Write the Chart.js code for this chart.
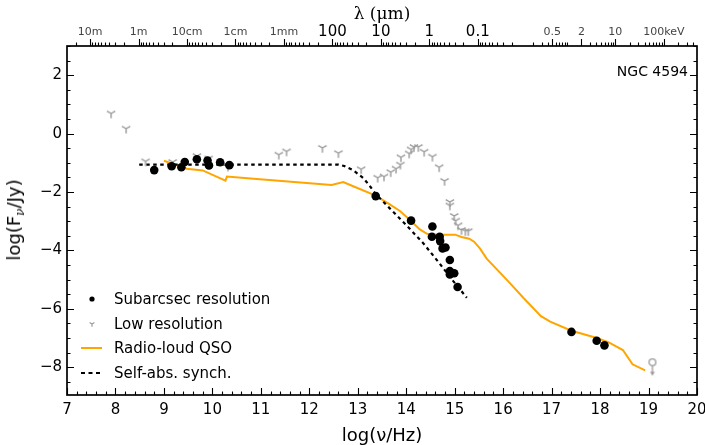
<!DOCTYPE html>
<html><head><meta charset="utf-8">
<script src="https://cdn.jsdelivr.net/npm/chart.js@4.4.1/dist/chart.umd.min.js"></script>
<style>
body{margin:0;background:#fff;}
#wrap{position:relative;width:705px;height:445px;font-family:"DejaVu Sans",sans-serif;}
#c{position:absolute;left:0;top:0;}
.ov{position:absolute;white-space:nowrap;color:#000;pointer-events:none;}
#ytitle{left:17px;top:220px;transform:translate(-50%,-50%) rotate(-90deg);font-size:18px;line-height:22px;}
#ytitle sub{font-size:12px;vertical-align:-4px;font-family:"DejaVu Serif",serif;font-style:italic;}
#ngc{right:17px;top:62px;font-size:14px;line-height:18px;}
.lg{position:absolute;left:78px;width:28px;height:20px;}
.lt{position:absolute;left:114px;font-size:15px;line-height:20px;height:20px;white-space:nowrap;}
</style></head>
<body>
<div id="wrap">
<canvas id="c" width="705" height="445"></canvas>
<div class="ov" id="ytitle">log(F<sub>ν</sub>/Jy)</div>
<div class="ov" id="ngc">NGC 4594</div>
<svg class="lg" style="top:289px" viewBox="0 0 28 20"><circle cx="14" cy="10" r="2.6" fill="#000"/></svg>
<div class="lt" style="top:289px">Subarcsec resolution</div>
<svg class="lg" style="top:314px" viewBox="0 0 28 20"><path d="M14 10 L14 12.8 M14 10 L11.6 8.6 M14 10 L16.4 8.6" stroke="#9a9a9a" stroke-width="1.2" fill="none"/></svg>
<div class="lt" style="top:314px">Low resolution</div>
<svg class="lg" style="top:338px" viewBox="0 0 28 20"><line x1="3" y1="10" x2="24" y2="10" stroke="#FFA500" stroke-width="2"/></svg>
<div class="lt" style="top:338px">Radio-loud QSO</div>
<svg class="lg" style="top:363px" viewBox="0 0 28 20"><line x1="3" y1="10" x2="24" y2="10" stroke="#000" stroke-width="2.2" stroke-dasharray="4 3.5"/></svg>
<div class="lt" style="top:363px">Self-abs. synch.</div>
</div>
<script>
// ---- data ----
const subX = [8.80,9.16,9.36,9.43,9.68,9.90,9.93,10.16,10.35,13.37,14.10,14.54,14.53,14.69,14.70,14.75,14.81,14.90,14.90,14.99,14.90,15.06,17.41,17.93,18.09];
const subY = [-1.25,-1.12,-1.15,-0.97,-0.88,-0.92,-1.09,-0.98,-1.08,-2.14,-2.98,-3.18,-3.53,-3.53,-3.68,-3.93,-3.90,-4.33,-4.71,-4.78,-4.82,-5.25,-6.79,-7.09,-7.25];
const lowX = [7.91,8.22,8.62,9.18,9.68,9.92,10.32,11.37,11.53,12.27,12.60,13.07,13.41,13.54,13.68,13.79,13.88,13.89,14.06,14.10,14.16,14.25,14.37,14.54,14.68,14.79,14.90,14.90,14.99,15.02,15.07,15.14,15.22,15.28];
const lowY = [0.69,0.17,-0.95,-0.97,-0.77,-0.85,-1.13,-0.72,-0.61,-0.49,-0.67,-1.22,-1.51,-1.47,-1.32,-1.20,-1.06,-0.81,-0.68,-0.54,-0.46,-0.46,-0.62,-0.79,-1.15,-1.62,-2.34,-2.46,-2.82,-2.98,-3.14,-3.30,-3.34,-3.34];
const qsoX = [9.00,9.47,9.80,10.27,10.30,10.98,12.46,12.70,12.93,13.37,13.66,13.87,14.10,14.28,14.43,14.63,14.83,15.01,15.14,15.30,15.40,15.52,15.66,16.14,16.42,16.78,16.97,17.41,17.90,18.17,18.47,18.67,18.93];
const qsoY = [-0.93,-1.20,-1.26,-1.61,-1.47,-1.56,-1.76,-1.66,-1.82,-2.12,-2.42,-2.65,-2.99,-3.28,-3.43,-3.46,-3.46,-3.46,-3.54,-3.60,-3.70,-3.93,-4.28,-5.12,-5.63,-6.25,-6.44,-6.75,-6.98,-7.14,-7.41,-7.90,-8.11];
const synX = [8.49,12.60,12.72,12.91,13.12,13.26,13.37,13.66,14.01,14.35,14.69,14.97,15.25];
const synY = [-1.06,-1.06,-1.11,-1.26,-1.53,-1.82,-2.07,-2.56,-3.15,-3.75,-4.45,-5.05,-5.62];
const limX = [19.08];
const limY = [-7.83];
const xTickVals = [7,8,9,10,11,12,13,14,15,16,17,18,19,20];
const yTickVals = [-8,-6,-4,-2,0,2];
const lambdaMajorUm = [1e7,1e6,1e5,1e4,1e3,100,10,1,0.1];
const lambdaMajorLabels = ['10m','1m','10cm','1cm','1mm','100','10','1','0.1'];
const lambdaBig = [false,false,false,false,false,true,true,true,true];
const keVMajor = [0.5,2,10,100];
const keVMajorLabels = ['0.5','2','10','100keV'];

// ---- top axis ticks (unit conversions) ----
const nuFromUm = um => Math.log10(2.998e14/um);
const nuFromKeV = e => 17.315 + Math.log10(e);
const topTicks = [];
lambdaMajorUm.forEach((u,i)=>topTicks.push({v:nuFromUm(u),lab:lambdaMajorLabels[i],big:lambdaBig[i]}));
for(let k=-2;k<=7;k++){for(let m=2;m<=9;m++){const v=nuFromUm(m*Math.pow(10,k)); if(v>7&&v<20) topTicks.push({v,lab:'',big:false});}}
keVMajor.forEach((e,i)=>topTicks.push({v:nuFromKeV(e),lab:keVMajorLabels[i],big:false}));
for(let k=-1;k<=2;k++){for(let m=1;m<=9;m++){const e=m*Math.pow(10,k); if(e<0.2) continue; if(keVMajor.some(q=>Math.abs(q-e)<1e-9)) continue; const v=nuFromKeV(e); if(v>7&&v<20) topTicks.push({v,lab:'',big:false});}}
topTicks.sort((a,b)=>a.v-b.v);

// ---- marker images ----
function makeTri(){const c=document.createElement('canvas');c.width=16;c.height=16;const g=c.getContext('2d');const cx=8,cy=8,r=4.8;g.strokeStyle='#999';g.lineWidth=1.4;g.beginPath();g.moveTo(cx,cy);g.lineTo(cx,cy+r);g.moveTo(cx,cy);g.lineTo(cx-r*0.866,cy-r*0.5);g.moveTo(cx,cy);g.lineTo(cx+r*0.866,cy-r*0.5);g.stroke();return c;}
function makeLimit(){const c=document.createElement('canvas');c.width=12;c.height=34;const g=c.getContext('2d');g.strokeStyle='#9a9a9a';g.fillStyle='#9a9a9a';g.lineWidth=1.3;g.beginPath();g.arc(6,17,3.4,0,2*Math.PI);g.stroke();g.beginPath();g.moveTo(6,20.5);g.lineTo(6,28);g.stroke();g.beginPath();g.moveTo(3.6,26.5);g.lineTo(8.4,26.5);g.lineTo(6,30.5);g.closePath();g.fill();return c;}
const pts = (xs,ys)=>xs.map((x,i)=>({x,y:ys[i]}));

const frameTicks = {
  id:'frameTicks',
  afterDraw(chart){
    const {ctx, chartArea:a, scales} = chart;
    const x=scales.x, y=scales.y, x2=scales.x2;
    ctx.save();
    ctx.strokeStyle='#000'; ctx.lineWidth=1.1;
    ctx.beginPath();
    for(let i=0;i<=65;i++){const v=7+i*0.2;const p=Math.round(x.getPixelForValue(v))+0.5;const L=(i%5===0)?7:3.5;ctx.moveTo(p,a.bottom);ctx.lineTo(p,a.bottom-L);}
    for(let i=0;i<=24;i++){const v=-9+i*0.5;if(v<-8.95||v>3)continue;const p=Math.round(y.getPixelForValue(v))+0.5;const L=(Number.isInteger(v)&&v%2===0)?7:3.5;ctx.moveTo(a.left,p);ctx.lineTo(a.left+L,p);ctx.moveTo(a.right,p);ctx.lineTo(a.right-L,p);}
    topTicks.forEach(t=>{const p=Math.round(x2.getPixelForValue(t.v))+0.5;const L=t.lab?7:3.5;ctx.moveTo(p,a.top);ctx.lineTo(p,a.top-L);});
    ctx.stroke();
    ctx.lineWidth=1.7;
    ctx.strokeRect(a.left,a.top,a.right-a.left,a.bottom-a.top);
    ctx.restore();
  }
};

new Chart(document.getElementById('c'),{
  type:'scatter',
  data:{datasets:[
    {label:'Subarcsec resolution',data:pts(subX,subY),pointStyle:'circle',pointRadius:4.3,backgroundColor:'#000',borderColor:'#000',borderWidth:0,order:0},
    {label:'Low resolution',data:pts(lowX,lowY),pointStyle:makeTri(),pointRadius:5,order:1},
    {label:'Upper limit',data:pts(limX,limY),pointStyle:makeLimit(),pointRadius:5,order:2},
    {label:'Self-abs. synch.',data:pts(synX,synY),showLine:true,pointRadius:0,borderColor:'#000',borderWidth:2.2,borderDash:[3.5,3.5],fill:false,tension:0,order:3},
    {label:'Radio-loud QSO',data:pts(qsoX,qsoY),showLine:true,pointRadius:0,borderColor:'#FFA500',borderWidth:2,fill:false,tension:0,order:4}
  ]},
  options:{
    responsive:false,animation:false,devicePixelRatio:1,
    layout:{padding:{left:0,right:8,top:0,bottom:0}},
    plugins:{legend:{display:false},tooltip:{enabled:false}},
    scales:{
      x:{type:'linear',position:'bottom',min:7,max:20,
        afterBuildTicks:s=>{s.ticks=xTickVals.map(v=>({value:v}));},
        afterFit:s=>{s.height=50;s.paddingLeft=0;s.paddingRight=0;},
        grid:{display:false,drawTicks:false},border:{display:false},
        ticks:{autoSkip:false,maxRotation:0,padding:6,color:'#000',font:{family:'DejaVu Sans',size:15,lineHeight:'18px'}},
        title:{display:true,text:'log(ν/Hz)',color:'#000',font:{family:'DejaVu Sans',size:18,lineHeight:1},padding:{top:0,bottom:0}}},
      x2:{type:'linear',position:'top',min:7,max:20,
        afterBuildTicks:s=>{s.ticks=topTicks.map(t=>({value:t.v}));},
        afterFit:s=>{s.height=46;s.paddingLeft=0;s.paddingRight=0;},
        grid:{display:false,drawTicks:false},border:{display:false},
        ticks:{autoSkip:false,maxRotation:0,minRotation:0,padding:5,
          callback:(v,i)=>topTicks[i]?topTicks[i].lab:'',
          color:c=>(topTicks[c.index]&&topTicks[c.index].big)?'#000':'#444',
          font:c=>({family:'DejaVu Sans',size:(topTicks[c.index]&&topTicks[c.index].big)?15:11,lineHeight:'18px'})},
        title:{display:true,text:'λ (μm)',color:'#000',font:{family:'DejaVu Serif',size:17,lineHeight:1.2},padding:{top:4,bottom:0}}},
      y:{type:'linear',position:'left',min:-8.95,max:3,
        afterBuildTicks:s=>{s.ticks=yTickVals.map(v=>({value:v}));},
        afterFit:s=>{s.width=67;s.paddingTop=0;s.paddingBottom=0;},
        grid:{display:false,drawTicks:false},border:{display:false},
        ticks:{padding:5,color:'#000',font:{family:'DejaVu Sans',size:15},callback:v=>v<0?'\u2212'+Math.abs(v):String(v)}}
    }
  },
  plugins:[frameTicks]
});
</script>
</body></html>
